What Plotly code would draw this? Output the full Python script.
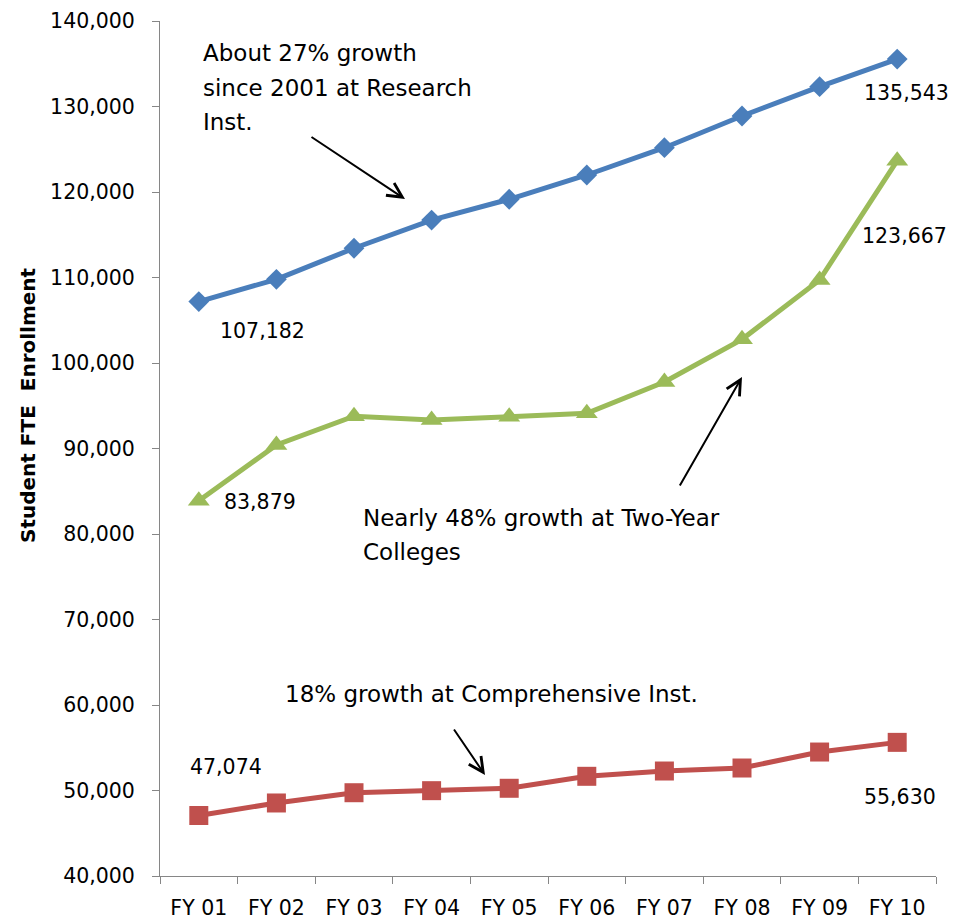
import plotly.graph_objects as go

categories = ["FY 01", "FY 02", "FY 03", "FY 04", "FY 05", "FY 06", "FY 07", "FY 08", "FY 09", "FY 10"]
research = [107182, 109790, 113420, 116720, 119150, 121990, 125180, 128890, 132320, 135543]
two_year = [83879, 90410, 93770, 93330, 93720, 94120, 97780, 102770, 109710, 123667]
comprehensive = [47074, 48540, 49740, 49980, 50260, 51660, 52280, 52630, 54500, 55630]
y_ticks = list(range(40000, 140001, 10000))

FONT = "DejaVu Sans"
W, H = 967, 921
L, R, T, B = 160, 31, 21, 45
PW, PH = W - L - R, H - T - B


def px(x):
    return (x - L) / PW


def py(y):
    return (H - B - y) / PH


fig = go.Figure()
fig.add_trace(go.Scatter(x=categories, y=research, mode="lines+markers", name="Research",
                         line=dict(color="#4A7EBB", width=5),
                         marker=dict(symbol="diamond", size=16, color="#4A7EBB")))
fig.add_trace(go.Scatter(x=categories, y=two_year, mode="lines+markers", name="Two-Year",
                         line=dict(color="#9BBB59", width=5),
                         marker=dict(symbol="triangle-up", size=19, color="#9BBB59")))
fig.add_trace(go.Scatter(x=categories, y=comprehensive, mode="lines+markers", name="Comprehensive",
                         line=dict(color="#C0504D", width=5),
                         marker=dict(symbol="square", size=19, color="#C0504D")))

ann = []
# data labels
lab_font = dict(family=FONT, size=20.5, color="black")
labels = [
    (categories[0], research[0], 64, -29),
    (categories[0], two_year[0], 61, -1),
    (categories[-1], research[-1], 9, -34),
    (categories[-1], two_year[-1], 7, -75),
    (categories[0], comprehensive[0], 27, 49),
    (categories[-1], comprehensive[-1], 3, -55),
]
for c, v, dx, dy in labels:
    ann.append(dict(x=c, y=v, xref="x", yref="y", text=f"{v:,}", showarrow=False,
                    xshift=dx, yshift=dy, font=lab_font))

# text notes (one annotation per line to match line spacing)
note_font = dict(family=FONT, size=23, color="black")
notes = [
    ("About 27% growth", 201, 53),
    ("since 2001 at Research", 201, 88),
    ("Inst.", 201, 122),
    ("Nearly 48% growth at Two-Year", 361, 518),
    ("Colleges", 361, 552),
    ("18% growth at Comprehensive Inst.", 283, 694),
]
for t, x, y in notes:
    ann.append(dict(x=px(x), y=py(y), xref="paper", yref="paper", text=t, showarrow=False,
                    xanchor="left", yanchor="middle", font=note_font))

# arrows
arrows = [((405, 199), (310, 136)), ((742, 377), (679, 487)), ((485, 775), (453, 728))]
for (hx, hy), (tx, ty) in arrows:
    ann.append(dict(x=px(hx), y=py(hy), xref="paper", yref="paper", text="",
                    showarrow=True, ax=tx - hx, ay=ty - hy, arrowhead=5,
                    arrowwidth=2, arrowsize=1.45, arrowcolor="black", standoff=0))

# y-axis title
ann.append(dict(x=px(28), y=py(405), xref="paper", yref="paper", xanchor="center", yanchor="middle",
                text="<b>Student FTE\u00a0 Enrollment</b>", textangle=-90, showarrow=False,
                font=dict(family=FONT, size=20, color="black")))

fig.update_layout(
    width=W, height=H,
    margin=dict(l=L, r=R, t=T, b=B, autoexpand=False),
    plot_bgcolor="white", paper_bgcolor="white",
    showlegend=False,
    annotations=ann,
    xaxis=dict(type="category", range=[-0.5, 9.5], showgrid=False, zeroline=False,
               showline=True, linecolor="#868686", linewidth=1, automargin=False,
               ticks="outside", tickson="boundaries", ticklen=7, tickcolor="#868686",
               tickfont=dict(family=FONT, size=20.5, color="black"), ticklabelstandoff=13),
    yaxis=dict(range=[40000, 140000], tickvals=y_ticks, tickformat=",", showgrid=False,
               zeroline=False, showline=True, linecolor="#868686", linewidth=1, automargin=False,
               ticks="outside", ticklen=7, tickcolor="#868686",
               tickfont=dict(family=FONT, size=20.5, color="black"), ticklabelstandoff=13),
)

fig.write_html("out.html", config={"displayModeBar": False},
               post_script="document.body.style.margin='0';document.body.style.overflow='hidden';")
